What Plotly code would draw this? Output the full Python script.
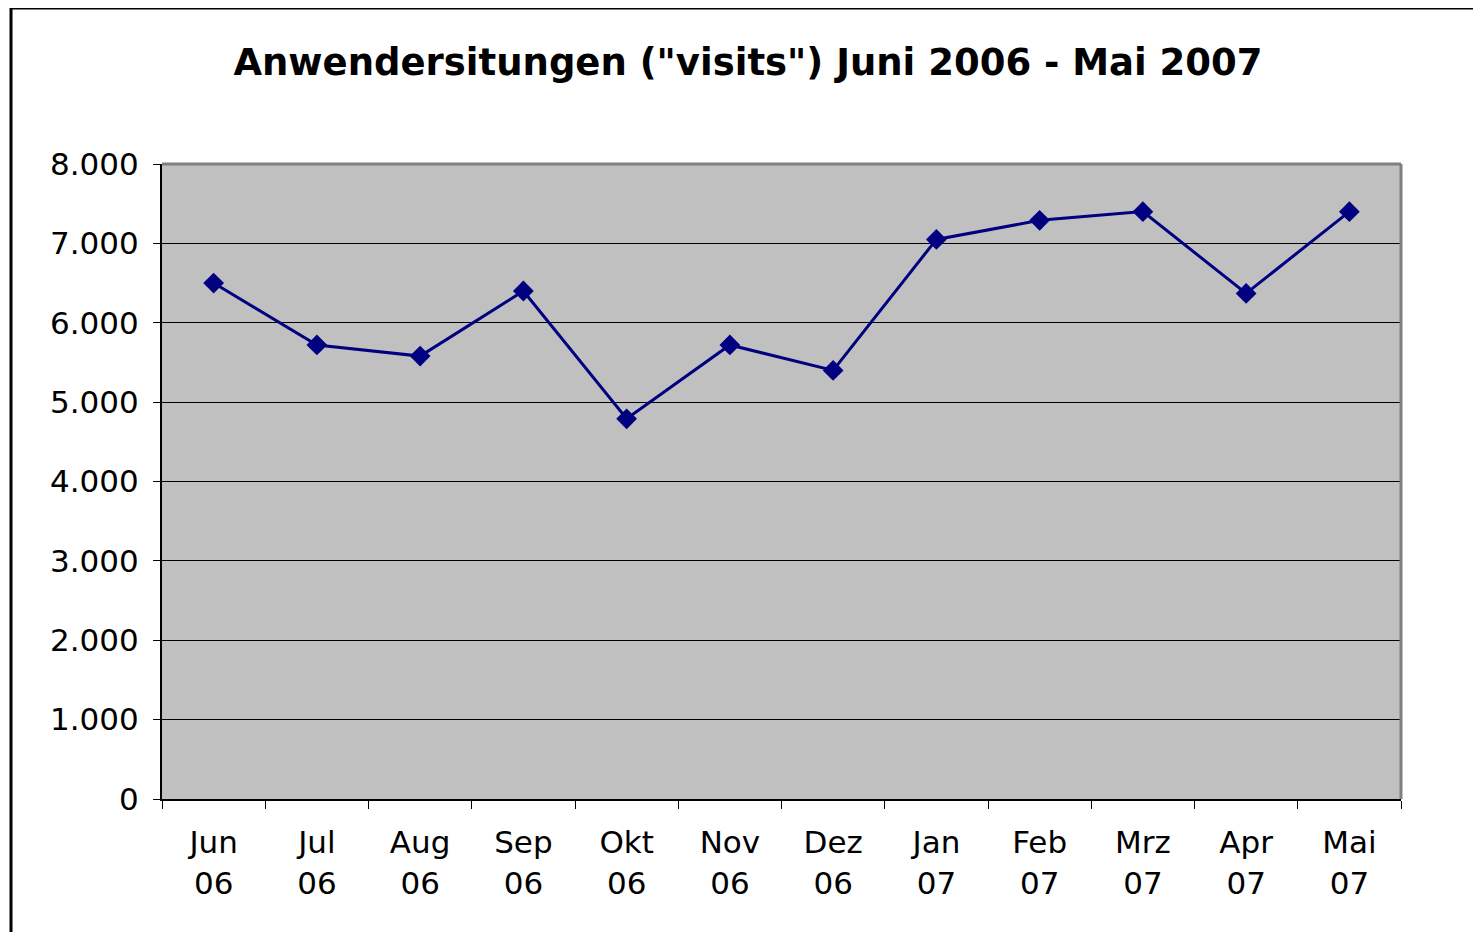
import plotly.graph_objects as go

months = ["Jun<br>06", "Jul<br>06", "Aug<br>06", "Sep<br>06", "Okt<br>06", "Nov<br>06",
          "Dez<br>06", "Jan<br>07", "Feb<br>07", "Mrz<br>07", "Apr<br>07", "Mai<br>07"]
visits = [6500, 5720, 5580, 6400, 4790, 5720, 5400, 7050, 7290, 7400, 6370, 7400]

title_text = 'Anwendersitungen ("visits") Juni 2006 - Mai 2007'
y_ticks = [0, 1000, 2000, 3000, 4000, 5000, 6000, 7000, 8000]

OFF = 8  # page body margin
W, H = 1481 - OFF, 932 - OFF
L, R, T, B = 162 - OFF, 1401 - OFF, 164 - OFF, 799 - OFF

def px(x):
    return (x - OFF - L) / (R - L)

def py(y):
    return (B - (y - OFF)) / (B - T)

fig = go.Figure()
fig.add_trace(go.Scatter(
    x=months, y=visits, mode="lines+markers",
    line=dict(color="#000080", width=3),
    marker=dict(symbol="diamond", size=16, color="#000080"),
    showlegend=False,
))

fig.update_layout(
    width=W, height=H,
    margin=dict(l=L, r=W - R, t=T, b=H - B, autoexpand=False),
    paper_bgcolor="white",
    plot_bgcolor="#C0C0C0",
    separators=",.",
    font=dict(family="DejaVu Sans", color="black", size=31),
    title=dict(text="<b>" + title_text + "</b>", x=(748 - OFF) / W, xref="container",
               y=1 - (62 - OFF) / H, yref="container", yanchor="middle", xanchor="center",
               font=dict(size=37, family="DejaVu Sans", color="black")),
    xaxis=dict(
        type="category", showgrid=False, showline=True, linecolor="black", linewidth=2,
        ticks="outside", tickson="boundaries", ticklen=8, tickcolor="black", tickwidth=1,
        tickfont=dict(size=31), range=[-0.5, 11.5], ticklabelstandoff=15,
    ),
    yaxis=dict(
        range=[0, 8000], tickvals=y_ticks, tickformat=",d",
        showgrid=True, gridcolor="black", gridwidth=1,
        showline=True, linecolor="black", linewidth=2,
        ticks="outside", ticklen=7, tickcolor="black", tickwidth=1,
        tickfont=dict(size=31), zeroline=False, ticklabelstandoff=8,
    ),
)

# gray top/right plot border
fig.add_shape(type="line", xref="paper", yref="paper", x0=0, x1=1, y0=1, y1=1,
              line=dict(color="#808080", width=3))
fig.add_shape(type="line", xref="paper", yref="paper", x0=1, x1=1, y0=0, y1=1,
              line=dict(color="#808080", width=3))
# outer chart border
fig.add_shape(type="rect", xref="paper", yref="paper",
              x0=px(11), x1=px(1478), y0=py(8), y1=py(960),
              line=dict(color="black", width=3), fillcolor="rgba(0,0,0,0)", layer="below")

fig.write_html("out.html")
